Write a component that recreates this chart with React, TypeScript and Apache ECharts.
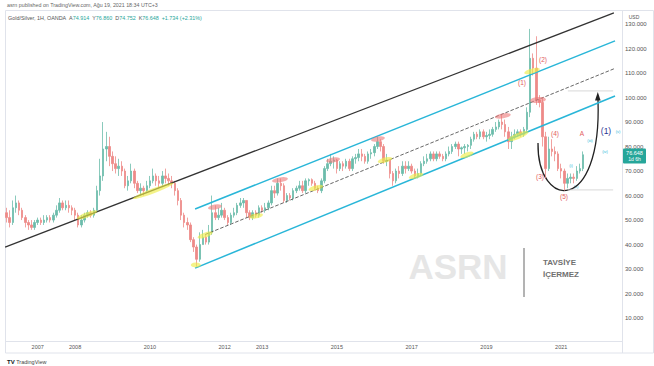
import React, { useEffect, useRef } from 'react';
import * as echarts from 'echarts';

// Monthly candles of the Gold/Silver ratio: [open, close, low, high]
const ratio2006 = [[53,51,49,55],[51,49,47,54],[49,55,48,58],[55,57,53,60],[57,54,52,58],[54,51,50,55],[51,49,47,52],[49,48,46,50],[48,47,46,50],[47,49,46,50]];
const ratio2007 = [[49,50,48,51],[50,49,48,51],[49,50,48,52],[50,51,49,52],[51,50,49,52],[50,52,49,53],[52,54,51,56],[54,57,53,59],[57,55,54,58],[55,56,54,58],[56,55,53,58],[55,54,52,56]];
const ratio2008 = [[54,52,50,55],[52,48,47,53],[48,50,47,52],[50,52,49,53],[52,53,51,54],[53,52,51,54],[52,54,51,55],[54,62,53,64],[62,68,60,75],[68,79,66,90],[79,80,74,86],[80,76,72,84]];
const ratio2009 = [[76,73,70,78],[73,71,69,76],[71,72,68,75],[72,70,68,74],[70,64,63,71],[64,66,62,68],[66,70,65,73],[70,65,63,71],[65,62,61,66],[62,63,60,65],[63,62,60,64],[62,64,61,66]];
const ratio2010 = [[64,66,63,68],[66,68,65,71],[68,66,64,69],[66,65,63,68],[65,68,64,70],[68,67,65,71],[67,66,64,69],[66,65,63,68],[65,62,60,66],[62,58,56,63],[58,52,50,59],[52,49,47,53]];
const ratio2011 = [[49,48,46,51],[48,42,41,49],[42,39,37,43],[39,34,31,40],[34,40,33,45],[40,43,40,46],[43,41,40,44],[41,45,40,48],[45,53,44,60],[53,51,50,56],[51,52,50,55],[52,54,51,57]];
const ratio2012 = [[54,51,50,55],[51,49,48,52],[49,52,48,53],[52,53,51,55],[53,56,52,57],[56,57,55,59],[57,58,55,59],[58,53,51,58],[53,51,50,54],[51,53,50,54],[53,52,51,54],[52,55,51,56]];
const ratio2013 = [[55,54,53,56],[54,55,53,57],[55,57,54,58],[57,62,56,64],[62,61,59,64],[61,65,60,67],[65,64,62,67],[64,58,57,65],[58,60,57,61],[60,59,58,61],[59,62,58,63],[62,63,61,64]];
const ratio2014 = [[63,64,62,66],[64,62,61,66],[62,66,61,67],[66,66.5,64,67],[66.5,65,64,67],[65,63,62,66],[63,62,61,64],[62,66,61,67],[66,71,65,72],[71,73,70,75],[73,74,72,77],[74,74.5,71,76]];
const ratio2015 = [[74.5,71,69,75],[71,73,70,74],[73,72,70,74],[72,74,71,75],[74,71,70,75],[71,75,70,76],[75,75.5,73,77],[75.5,77,74,79],[77,76,74,79],[76,74,73,77],[74,77,73,78],[77,77.5,75,79]];
const ratio2016 = [[77.5,80,76,81],[80,82,79,84],[82,80,78,83],[80,74,73,81],[74,74.5,72,77],[74.5,69,67,75],[69,66,64,70],[66,70,65,71],[70,69,67,72],[69,72,68,74],[72,71,69,74],[71,72,70,74]];
const ratio2017 = [[72,70,69,73],[70,68,67,71],[68,69,67,71],[69,73,68,74],[73,74,72,76],[74,75,73,77],[75,77,74,78],[77,75,74,78],[75,77,74,78],[77,76,75,78],[76,75,74,77],[75,77,74,78]];
const ratio2018 = [[77,78,76,80],[78,80,77,81],[80,81,79,82],[81,79,76,82],[79,79.5,77,80],[79.5,80,77,81],[80,80.5,78,81],[80.5,83,79,84],[83,85,82,86],[85,84,83,86],[84,86,83,87],[86,84,83,87]];
const ratio2019 = [[84,84.5,82,86],[84.5,85,83,87],[85,87,84,88],[87,88,86,90],[88,90,87,91],[90,89,87,93],[89,86,84,91],[86,82,79,88],[82,84,79,86],[84,85,83,87],[85,86,84,87],[86,85,84,87]];
const ratio2020 = [[85,87,84,88],[87,94,86,96],[94,116,92,128],[116,112,109,118],[112,99,97,125],[99,98,96,101],[98,84,80,100],[84,71,67,86],[71,79,70,84],[79,78,76,83],[78,77,74,80],[77,71,70,78]];
const ratio2021 = [[71,70,67,73],[70,65,62,71],[65,67,63,69],[67,67.5,65,69],[67.5,67,65,69],[67,70,66,72],[70,71,69,73],[71,76.648,70,78]];

const candles = [
  ...ratio2006, ...ratio2007, ...ratio2008, ...ratio2009, ...ratio2010, ...ratio2011,
  ...ratio2012, ...ratio2013, ...ratio2014, ...ratio2015, ...ratio2016, ...ratio2017,
  ...ratio2018, ...ratio2019, ...ratio2020, ...ratio2021,
];

// Month categories from 2006-03 to 2022-08 (the last year is empty right margin)
const categories: string[] = [];
for (let y = 2006; y <= 2022; y++) {
  for (let m = 1; m <= 12; m++) {
    if ((y === 2006 && m < 3) || (y === 2022 && m > 8)) continue;
    categories.push(`${y}-${String(m).padStart(2, '0')}`);
  }
}
const yearLabels = ['2007', '2008', '2010', '2012', '2013', '2015', '2017', '2019', '2021'];
const priceLabels = [10, 20, 30, 40, 50, 60, 70, 80, 90, 100, 110, 120, 130];
const tMin = 2006 + 2 / 12;
const tMax = 2022 + 8 / 12;

// Drawn trend lines, in [decimal year, ratio]
const blackTrend = [[2006.17, 39.0], [2022.45, 134.5]];
const channelUpper = [[2011.25, 54.5], [2022.48, 123.1]];
const channelLower = [[2011.25, 30.4], [2022.48, 100.6]];
const channelMid = [[2011.52, 44.1], [2022.48, 111.9]];
const levelHigh = [[2021.22, 102.7], [2022.43, 102.7]];
const levelLow = [[2021.22, 62.3], [2022.43, 62.3]];

// Highlighter marks: [decimal year, ratio, length, thickness, angle]
const yellowMarks = [
  [2008.36, 52.1, 22, 5, 21], [2010.13, 61.9, 44, 5, 21], [2011.27, 31.7, 10, 5, 0],
  [2011.52, 43.9, 16, 5, 20], [2012.88, 51.7, 14, 5, 10], [2014.48, 63.1, 15, 5, 15],
  [2016.33, 74.5, 15, 5, 15], [2017.16, 68.0, 15, 5, 15], [2018.52, 76.6, 14, 5, 20],
  [2019.89, 84.3, 22, 6, 22], [2020.26, 110.8, 16, 5, 15],
];
const redMarks = [
  [2011.78, 55.3, 14, 5, 10], [2013.52, 66.4, 16, 5, 10], [2014.94, 74.5, 14, 5, 10],
  [2016.14, 83.1, 14, 5, 10], [2019.48, 92.5, 16, 5, 10], [2020.42, 99.0, 16, 6, 5],
];

const F = 'Liberation Sans, Arial, sans-serif';
const UP = '#6cbcab';
const DOWN = '#ee8a88';

function txt(x: number, y: number, text: string, size: number, fill: string, extra: any = {}) {
  return {
    type: 'text', x, y, silent: true,
    style: {
      text, fontSize: size, fill, fontFamily: F,
      align: 'center', verticalAlign: 'middle', textAlign: 'center', textVerticalAlign: 'middle',
      ...extra,
    },
  };
}

function lineSeries(data: number[][], color: string, width: number, type: string = 'solid') {
  return {
    type: 'line', xAxisIndex: 1, yAxisIndex: 0, data, symbol: 'none', silent: true, z: 3,
    lineStyle: { color, width, type },
  };
}

function markSeries(marks: number[][], color: string) {
  return {
    type: 'scatter', xAxisIndex: 1, yAxisIndex: 0, silent: true, z: 4,
    itemStyle: { color },
    data: marks.map((m) => ({ value: [m[0], m[1]], symbolSize: [m[2], m[3]], symbolRotate: m[4] })),
  };
}

export default function App() {
  const ref = useRef<HTMLDivElement>(null);
  useEffect(() => {
    const chart = echarts.init(ref.current!, null, { renderer: 'svg' });
    const red = '#e25c5c';
    const cyan = '#29b6d8';
    const baseGraphic: any[] = [
      { type: 'rect', silent: true, shape: { x: 5.5, y: 10.5, width: 648, height: 342.5 }, style: { fill: 'none', stroke: '#e0e3eb', lineWidth: 1 } },
      { type: 'line', silent: true, shape: { x1: 5, y1: 341.5, x2: 622, y2: 341.5 }, style: { stroke: '#e0e3eb', lineWidth: 1 } },
      { type: 'line', silent: true, shape: { x1: 622.5, y1: 10.5, x2: 622.5, y2: 353 }, style: { stroke: '#e0e3eb', lineWidth: 1 } },
      txt(7, 4.5, 'asrn published on TradingView.com, Ağu 19, 2021 18:34 UTC+3', 5.3, '#666', { align: 'left', textAlign: 'left' }),
      {
        type: 'text', x: 8, y: 17.5, silent: true,
        style: {
          text: '{g|Gold/Silver, 1H, OANDA}  {g|A}{v|74.914}  {g|Y}{v|76.860}  {g|D}{v|74.752}  {g|K}{v|76.648}  {v|+1.734 (+2.31%)}',
          fontFamily: F, fontSize: 5.4, align: 'left', verticalAlign: 'middle', textAlign: 'left', textVerticalAlign: 'middle',
          rich: { g: { fill: '#555', fontSize: 5.4, fontFamily: F }, v: { fill: '#26a69a', fontSize: 5.4, fontFamily: F } },
        },
      },
      txt(634, 17, 'USD', 5, '#555'),
      // ASRN watermark
      txt(458, 266, 'ASRN', 35, '#e6e6e6', { fontWeight: 'bold' }),
      { type: 'line', silent: true, shape: { x1: 524, y1: 248, x2: 524, y2: 297 }, style: { stroke: '#9a9a9a', lineWidth: 1.5 } },
      txt(543, 262, 'TAVSİYE', 8, '#707070', { fontWeight: 'bold', align: 'left', textAlign: 'left' }),
      txt(543, 274, 'İÇERMEZ', 8, '#707070', { fontWeight: 'bold', align: 'left', textAlign: 'left' }),
      // Elliott wave labels
      txt(522, 82, '(1)', 6.5, red),
      txt(543, 59, '(2)', 6.5, red),
      txt(540, 176, '(3)', 6.5, red),
      txt(555, 133, '(4)', 6.5, red),
      txt(564, 196, '(5)', 6.5, red),
      txt(582, 133, 'A', 6.5, red),
      txt(606, 131, '(1)', 8.5, '#283593'),
      txt(571, 165, '(i)', 4, cyan),
      txt(576, 186, '(ii)', 4, cyan),
      txt(590, 140, '(iii)', 4, cyan),
      txt(605, 151, '(iv)', 4, cyan),
      txt(618, 131, '(v)', 4, cyan),
      // curved arrow
      { type: 'bezierCurve', silent: true, shape: { x1: 538, y1: 143, cpx1: 537, cpy1: 210, cpx2: 602, cpy2: 215, x2: 598, y2: 100 }, style: { stroke: '#222', lineWidth: 1.3, fill: 'none' } },
      { type: 'polygon', silent: true, shape: { points: [[597.8, 92], [595, 100.5], [600.6, 100.5]] }, style: { fill: '#222' } },
      // footer
      {
        type: 'text', x: 7, y: 361.5, silent: true,
        style: {
          text: '{b|TV} {t|TradingView}', fontFamily: F, fontSize: 5.5,
          align: 'left', verticalAlign: 'middle', textAlign: 'left', textVerticalAlign: 'middle',
          rich: { b: { fill: '#131722', fontWeight: 'bold', fontSize: 6, fontFamily: F }, t: { fill: '#444', fontSize: 5.5, fontFamily: F } },
        },
      },
    ];
    chart.setOption({
      animation: false,
      backgroundColor: '#ffffff',
      grid: { left: 5, right: 32, top: 11.75, bottom: 23.4, containLabel: false },
      xAxis: [
        {
          type: 'category', data: categories, boundaryGap: true,
          axisLine: { show: false }, axisTick: { show: false }, splitLine: { show: false },
          axisLabel: {
            interval: (_i: number, v: string) => v.endsWith('-01') && yearLabels.includes(v.slice(0, 4)),
            formatter: (v: string) => v.slice(0, 4),
            fontSize: 5.5, color: '#555', margin: 1.5, fontFamily: F,
          },
        },
        { type: 'value', min: tMin, max: tMax, show: false },
      ],
      yAxis: {
        type: 'value', position: 'right', min: 0, max: 135, interval: 10,
        splitLine: { show: false }, axisLine: { show: false }, axisTick: { show: false },
        axisLabel: { show: false },
      },
      series: [
        {
          type: 'candlestick', xAxisIndex: 0, yAxisIndex: 0, data: candles, barWidth: 2,
          itemStyle: { color: UP, color0: DOWN, borderColor: UP, borderColor0: DOWN, borderWidth: 0.8 },
        },
        lineSeries(blackTrend, '#333333', 1.3),
        lineSeries(channelUpper, cyan, 1.5),
        lineSeries(channelLower, cyan, 1.5),
        lineSeries(channelMid, '#555555', 0.9, 'dashed'),
        lineSeries(levelHigh, '#cfcfcf', 0.8),
        lineSeries(levelLow, '#cfcfcf', 0.8),
        markSeries(yellowMarks, 'rgba(238,236,70,0.8)'),
        markSeries(redMarks, 'rgba(236,120,120,0.75)'),
      ],
      graphic: baseGraphic,
    });
    // price-scale labels placed through the y axis scale
    const priceTexts = priceLabels.map((v) => {
      const y = chart.convertToPixel({ yAxisIndex: 0 }, v) as number;
      return txt(625, y, v.toFixed(3), 6, '#555', { align: 'left', textAlign: 'left' });
    });
    const lastPrice = candles[candles.length - 1][1];
    const py = chart.convertToPixel({ yAxisIndex: 0 }, lastPrice) as number;
    const badge = [
      { type: 'rect', silent: true, shape: { x: 623, y: py - 6.3, width: 23, height: 15, r: 1 }, style: { fill: '#26a69a' } },
      txt(634.5, py - 1.8, lastPrice.toFixed(3), 5.5, '#fff'),
      txt(634.5, py + 4.7, '1d 6h', 5, '#fff'),
    ];
    chart.setOption({ graphic: baseGraphic.concat(priceTexts, badge) });
    return () => chart.dispose();
  }, []);
  return (
    <div
      ref={ref}
      style={{ position: 'fixed', left: 0, top: 0, width: 654, height: 366, background: '#fff' }}
    />
  );
}
